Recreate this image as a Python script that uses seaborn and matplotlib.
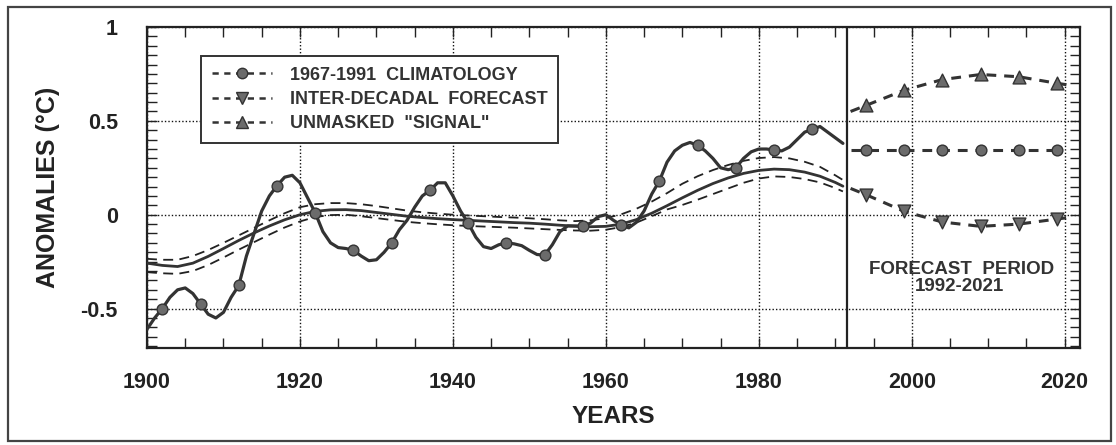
import numpy as np
import pandas as pd
import matplotlib
matplotlib.use("Agg")
import matplotlib.pyplot as plt
from matplotlib.lines import Line2D
from matplotlib.patches import Rectangle
from matplotlib.ticker import MultipleLocator
import seaborn as sns

# ---------------- data ----------------
clim_years = list(range(1900, 1992))
clim_vals = [-0.61, -0.55, -0.50, -0.44, -0.40, -0.39, -0.42, -0.475, -0.53, -0.55,
             -0.52, -0.44, -0.377, -0.22, -0.10, 0.02, 0.10, 0.155, 0.20, 0.21,
             0.17, 0.09, 0.01, -0.09, -0.15, -0.175, -0.18, -0.19, -0.22, -0.245,
             -0.24, -0.20, -0.15, -0.08, -0.03, 0.04, 0.10, 0.13, 0.17, 0.17,
             0.10, 0.02, -0.045, -0.12, -0.17, -0.18, -0.16, -0.15, -0.155, -0.165,
             -0.19, -0.212, -0.215, -0.16, -0.09, -0.06, -0.06, -0.06, -0.045, -0.01,
             0.00, -0.03, -0.055, -0.07, -0.04, 0.02, 0.11, 0.18, 0.28, 0.34,
             0.37, 0.385, 0.37, 0.34, 0.30, 0.25, 0.24, 0.25, 0.30, 0.335,
             0.35, 0.35, 0.345, 0.34, 0.36, 0.40, 0.44, 0.455, 0.47, 0.44,
             0.41, 0.38]
clim_marker_years = [1902, 1907, 1912, 1917, 1922, 1927, 1932, 1937, 1942,
                     1947, 1952, 1957, 1962, 1967, 1972, 1977, 1982, 1987]
clim_marker_vals = [-0.50, -0.475, -0.377, 0.155, 0.01, -0.19, -0.15, 0.13, -0.045,
                    -0.15, -0.215, -0.06, -0.055, 0.18, 0.37, 0.25, 0.345, 0.455]

trend_years = list(range(1900, 1991, 2)) + [1991]
trend_vals = [-0.258, -0.270, -0.276, -0.258, -0.222, -0.180, -0.137, -0.097, -0.060, -0.027,
              0.000, 0.018, 0.026, 0.027, 0.022, 0.012, 0.002, -0.008, -0.015, -0.021,
              -0.026, -0.030, -0.034, -0.038, -0.042, -0.045, -0.050, -0.056, -0.061, -0.064,
              -0.062, -0.050, -0.026, 0.008, 0.048, 0.090, 0.130, 0.166, 0.196, 0.220,
              0.236, 0.243, 0.240, 0.227, 0.205, 0.172, 0.152]
trend_upper = [-0.235, -0.240, -0.240, -0.220, -0.188, -0.150, -0.110, -0.070, -0.030, 0.008,
               0.040, 0.056, 0.062, 0.062, 0.056, 0.046, 0.034, 0.022, 0.013, 0.006,
               0.000, -0.004, -0.008, -0.012, -0.015, -0.019, -0.024, -0.030, -0.034, -0.030,
               -0.018, 0.002, 0.032, 0.070, 0.115, 0.165, 0.205, 0.238, 0.265, 0.287,
               0.302, 0.307, 0.300, 0.282, 0.255, 0.210, 0.185]
trend_lower = [-0.306, -0.312, -0.315, -0.300, -0.268, -0.228, -0.186, -0.146, -0.106, -0.068,
               -0.036, -0.012, -0.002, 0.000, -0.008, -0.018, -0.028, -0.038, -0.045, -0.051,
               -0.056, -0.060, -0.063, -0.066, -0.069, -0.073, -0.077, -0.081, -0.084, -0.085,
               -0.080, -0.066, -0.042, -0.008, 0.028, 0.052, 0.080, 0.110, 0.140, 0.170,
               0.193, 0.204, 0.201, 0.190, 0.172, 0.142, 0.124]

fc_marker_years = [1994, 1999, 2004, 2009, 2014, 2019]
fc_clim_vals = [0.343, 0.343, 0.343, 0.343, 0.343, 0.343]
fc_forecast_vals = [0.107, 0.018, -0.039, -0.062, -0.050, -0.023]
fc_signal_vals = [0.582, 0.663, 0.720, 0.747, 0.735, 0.700]

fc_line_years = [1992, 1994, 1999, 2004, 2009, 2014, 2019, 2021]
fc_forecast_line = [0.140, 0.107, 0.018, -0.039, -0.062, -0.050, -0.023, -0.012]
fc_signal_line = [0.550, 0.582, 0.663, 0.720, 0.747, 0.735, 0.700, 0.688]
fc_clim_line_years = [1992, 1994, 1999, 2004, 2009, 2014, 2019]
fc_clim_line = [0.343, 0.343, 0.343, 0.343, 0.343, 0.343, 0.343]

forecast_start = 1991.5
legend_labels = ["1967-1991  CLIMATOLOGY", "INTER-DECADAL  FORECAST", 'UNMASKED  "SIGNAL"']

# ---------------- style ----------------
sns.set_style("ticks")
plt.rcParams["font.family"] = ["Liberation Sans", "DejaVu Sans"]
plt.rcParams["font.weight"] = "bold"

INK = "#333333"
MARK = "#6b6b6b"

fig = plt.figure(figsize=(11.16, 4.45), dpi=100)
ax = fig.add_axes([147 / 1116, 1 - 348 / 445, (1080 - 147) / 1116, (348 - 27) / 445])

# historical climatology curve
sns.lineplot(x=clim_years, y=clim_vals, ax=ax, color=INK, lw=2.3, sort=False,
             estimator=None, zorder=4)
sns.scatterplot(x=clim_marker_years, y=clim_marker_vals, ax=ax, marker="o", s=60,
                color=MARK, edgecolor=INK, linewidth=1.0, zorder=5)

# trend and bounds
sns.lineplot(x=trend_years, y=trend_vals, ax=ax, color=INK, lw=2.0, sort=False,
             estimator=None, zorder=3)
sns.lineplot(x=trend_years, y=trend_upper, ax=ax, color="#222222", lw=1.3,
             linestyle=(0, (5.5, 3.5)), sort=False, estimator=None, zorder=3)
sns.lineplot(x=trend_years, y=trend_lower, ax=ax, color="#222222", lw=1.3,
             linestyle=(0, (5.5, 3.5)), sort=False, estimator=None, zorder=3)

# forecast period
fc_dash = (0, (3.2, 2.6))
sns.lineplot(x=fc_line_years, y=fc_signal_line, ax=ax, color=INK, lw=2.2,
             linestyle=fc_dash, sort=False, estimator=None, zorder=3)
sns.lineplot(x=fc_clim_line_years, y=fc_clim_line, ax=ax, color=INK, lw=2.2,
             linestyle=fc_dash, sort=False, estimator=None, zorder=3)
sns.lineplot(x=fc_line_years, y=fc_forecast_line, ax=ax, color=INK, lw=2.2,
             linestyle=fc_dash, sort=False, estimator=None, zorder=3)
sns.scatterplot(x=fc_marker_years, y=fc_signal_vals, ax=ax, marker="^", s=85,
                color=MARK, edgecolor=INK, linewidth=1.0, zorder=5)
sns.scatterplot(x=fc_marker_years, y=fc_clim_vals, ax=ax, marker="o", s=60,
                color=MARK, edgecolor=INK, linewidth=1.0, zorder=5)
sns.scatterplot(x=fc_marker_years, y=fc_forecast_vals, ax=ax, marker="v", s=85,
                color=MARK, edgecolor=INK, linewidth=1.0, zorder=5)

ax.axvline(forecast_start, color="#222222", lw=1.6, zorder=2)

# axes
ax.set_xlim(1900, 2022)
ax.set_ylim(-0.71, 1.0)
ax.xaxis.set_major_locator(MultipleLocator(20))
ax.xaxis.set_minor_locator(MultipleLocator(5))
ax.yaxis.set_minor_locator(MultipleLocator(0.05))
ax.set_yticks([-0.5, 0, 0.5, 1])
ax.set_yticklabels(["-0.5", "0", "0.5", "1"])
ax.tick_params(which="both", direction="in", top=True, right=True, color="#222222",
               width=1.0)
ax.tick_params(which="major", length=7, labelsize=15.5, labelcolor="#222222")
ax.tick_params(which="minor", length=7)
ax.tick_params(axis="x", pad=17)
ax.tick_params(axis="y", pad=21)
for lab in ax.get_xticklabels() + ax.get_yticklabels():
    lab.set_fontweight("bold")
ax.grid(True, which="major", color="#111111", linestyle=(0, (1, 1.5)), lw=1.0)
for s in ax.spines.values():
    s.set_linewidth(1.6)
    s.set_color("#222222")

ax.set_xlabel("YEARS", fontsize=17.5, fontweight="bold", color="#222222", labelpad=9)
ax.set_ylabel("ANOMALIES (°C)", fontsize=18, fontweight="bold", color="#222222",
              labelpad=15)

# forecast text
ax.text(2006.5, -0.29, "FORECAST  PERIOD", ha="center", va="center", fontsize=13.5,
        fontweight="bold", color="#333333")
ax.text(2006.3, -0.38, "1992-2021", ha="center", va="center", fontsize=13.5,
        fontweight="bold", color="#333333")

# legend
handles = [
    Line2D([], [], color=INK, lw=1.8, linestyle=(0, (2.5, 2.2)), marker="o", ms=7.5,
           mfc=MARK, mec=INK),
    Line2D([], [], color=INK, lw=1.8, linestyle=(0, (2.5, 2.2)), marker="v", ms=8,
           mfc=MARK, mec=INK),
    Line2D([], [], color=INK, lw=1.8, linestyle=(0, (2.5, 2.2)), marker="^", ms=8,
           mfc=MARK, mec=INK),
]
leg = ax.legend(handles, legend_labels, loc="upper left", bbox_to_anchor=(0.058, 0.91),
                borderaxespad=0, fontsize=13, handlelength=3.3, handletextpad=1.0,
                labelspacing=0.4, borderpad=0.6, fancybox=False, framealpha=1,
                edgecolor="#333333")
leg.get_frame().set_linewidth(1.4)
for t in leg.get_texts():
    t.set_fontweight("bold")
    t.set_color("#333333")

# figure border
fig.patches.append(Rectangle((8 / 1116, 4 / 445), (1111 - 8) / 1116, (441 - 7) / 445,
                             transform=fig.transFigure, fill=False, lw=1.6,
                             edgecolor="#444444"))

fig.savefig("out.png", dpi=100)
